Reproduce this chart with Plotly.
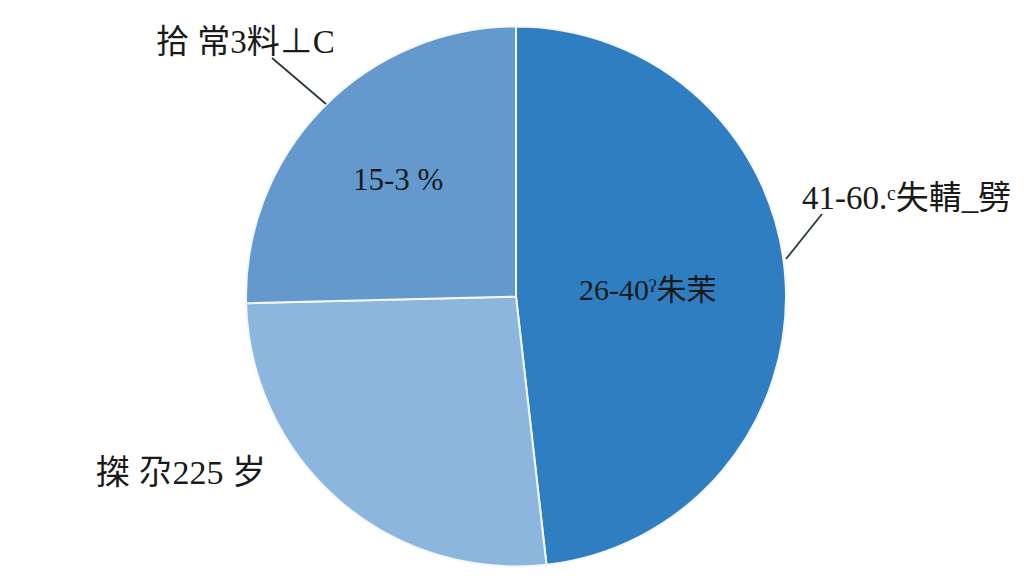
import plotly.graph_objects as go

W, H = 1024, 576
OFF = 8  # page body offset

slice_names = ["26-40ˀ朱茉", "搩 尕225 岁", "15-3%"]
slice_values = [48.2, 26.4, 25.4]
slice_colors = ["#2F7EC1", "#8DB6DE", "#6399CD"]

# label texts and their pixel positions (centre)
label_texts = ["拾 常3料⊥C", "15-3 %", "41-60.ᶜ失輤_劈", "26-40ˀ朱茉", "搩 尕225 岁"]
label_px = [(245, 42), (398, 179), (906, 198), (647, 290), (181, 472)]
label_sizes = [33, 31, 33, 30, 34]

R = 270
CX, CY = 516 - OFF, 296.5 - OFF

fig = go.Figure(
    go.Pie(
        labels=slice_names,
        values=slice_values,
        sort=False,
        direction="clockwise",
        rotation=0,
        marker=dict(colors=slice_colors, line=dict(color="#F4F8FC", width=2)),
        textinfo="none",
        hoverinfo="label+percent",
        domain=dict(x=[(CX - 500) / W, (CX + 500) / W],
                    y=[1 - (CY + R) / H, 1 - (CY - R) / H]),
        showlegend=False,
    )
)

for t, (px, py), s in zip(label_texts, label_px, label_sizes):
    fig.add_annotation(
        x=(px - OFF) / W, y=1 - (py - OFF) / H, xref="paper", yref="paper",
        xanchor="center", yanchor="middle",
        text=t, showarrow=False,
        font=dict(family="Liberation Serif, Noto Sans CJK SC", size=s, color="#1A1A1A"),
    )

# leader lines
leaders = [((272, 58), (326, 104)), ((822, 214), (786, 259))]
for (x0, y0), (x1, y1) in leaders:
    fig.add_shape(
        type="line", xref="paper", yref="paper",
        x0=(x0 - OFF) / W, y0=1 - (y0 - OFF) / H, x1=(x1 - OFF) / W, y1=1 - (y1 - OFF) / H,
        line=dict(color="#2A3A3A", width=1.8),
    )

fig.update_layout(
    width=W, height=H,
    margin=dict(l=0, r=0, t=0, b=0),
    paper_bgcolor="white",
    plot_bgcolor="white",
)

fig.write_html("out.html")
